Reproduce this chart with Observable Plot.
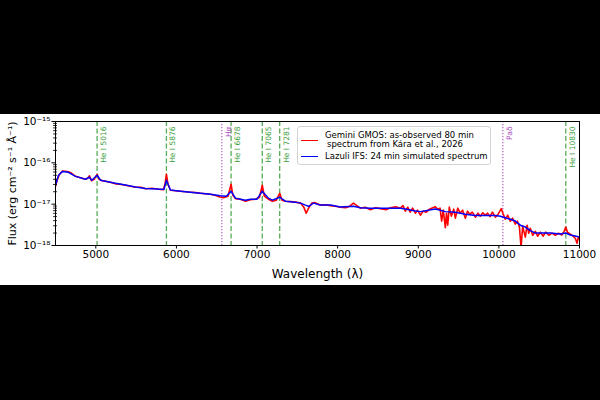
<!DOCTYPE html>
<html>
<head>
<meta charset="utf-8">
<script src="https://cdn.jsdelivr.net/npm/d3@7"></script>
<script src="https://cdn.jsdelivr.net/npm/@observablehq/plot@0.6"></script>
<style>
  html, body { margin: 0; padding: 0; background: #000; width: 600px; height: 400px; overflow: hidden; }
  #fig { position: absolute; left: 0; top: 114px; width: 600px; height: 171px; background: #fff; overflow: hidden; }
  #fig svg { display: block; overflow: visible; }
  #legend { position: absolute; left: 297px; top: 12px; width: 192px; height: 37px;
    border: 1px solid #d4d4d4; border-radius: 3px; background: rgba(255,255,255,0.85);
    font-family: "DejaVu Sans", sans-serif; font-size: 8.5px; color: #000; }
  #legend .t { position: absolute; white-space: nowrap; line-height: 1; }
  #legend .h { position: absolute; height: 0; border-top-width: 1.6px; border-top-style: solid; width: 17px; left: 3px; }
</style>
</head>
<body>
<div id="fig">
  <div id="chart"></div>
  <div id="legend">
    <div class="h" style="top:12.5px;border-top-color:#ff0000"></div>
    <div class="t" style="left:27px;top:3.5px">Gemini GMOS: as-observed 80 min</div>
    <div class="t" style="left:29px;top:13px">spectrum from Kára et al., 2026</div>
    <div class="h" style="top:29px;border-top-color:#0000ff"></div>
    <div class="t" style="left:27px;top:25px">Lazuli IFS: 24 min simulated spectrum</div>
  </div>
</div>
<script>
// ---- Data (flux in units of 1e-17 erg cm^-2 s^-1 Å^-1) ----
const FLUX_UNIT = 1e-17;

// Gemini GMOS observed spectrum (red)
const redWave = [4500,4520,4550,4587,4620,4661,4700,4748,4800,4872,
  4900,4922,4946,4980,5016,5040,5080,5120,5180,5244,
  5300,5368,5430,5492,5560,5616,5700,5780,5840,5860,
  5876,5895,5926,5990,6050,6120,6174,6240,6298,6360,
  6422,6480,6546,6590,6640,6678,6700,6732,6794,6856,
  6918,6980,7030,7065,7090,7141,7191,7240,7281,7310,
  7352,7420,7476,7540,7580,7610,7640,7680,7720,7786,
  7850,7910,7970,8034,8100,8150,8195,8230,8282,8340,
  8406,8470,8530,8600,8654,8720,8778,8810,8840,8870,
  8900,8930,8964,8990,9026,9060,9100,9140,9180,9212,
  9240,9270,9290,9310,9336,9350,9365,9385,9410,9440,
  9460,9490,9520,9550,9584,9610,9640,9670,9708,9740,
  9770,9800,9832,9860,9890,9920,9956,9990,10030,10050,
  10080,10110,10142,10170,10204,10230,10255,10275,10295,10328,
  10350,10370,10390,10420,10452,10480,10514,10550,10580,10620,
  10660,10700,10740,10780,10810,10830,10850,10886,10920,10948,
  10970,10985,11000];
const redFlux = [2.71,3.79,5.28,6.3,6.24,6.1,5.58,4.73,4.4,4.0,
  4.23,4.85,3.7,4.0,5.28,4.0,3.7,3.58,3.39,3.1,
  3.04,2.87,2.71,2.57,2.57,2.37,2.43,2.3,2.24,3.21,
  5.28,3.04,2.17,2.12,2.06,2.0,1.95,1.9,1.84,1.79,
  1.74,1.65,1.47,1.44,1.56,3.04,1.65,1.36,1.32,1.18,
  1.28,1.32,1.47,2.87,1.56,1.32,1.18,1.25,1.84,1.25,
  1.18,1.15,1.12,1.06,0.846,0.605,0.80,1.06,1.09,0.946,
  0.97,0.92,0.894,0.846,0.82,0.894,1.06,0.946,0.80,0.846,
  0.736,0.82,0.78,0.736,0.82,0.87,0.80,0.92,0.677,0.846,
  0.64,0.80,0.605,0.716,0.541,0.677,0.64,0.757,0.82,0.87,
  0.757,0.80,0.39,0.716,0.27,0.605,0.31,0.846,0.512,0.757,
  0.458,0.80,0.605,0.716,0.458,0.677,0.572,0.64,0.484,0.605,
  0.512,0.62,0.541,0.605,0.5,0.64,0.484,0.572,0.78,0.605,
  0.433,0.541,0.387,0.458,0.33,0.387,0.277,0.09,0.29,0.159,
  0.31,0.198,0.262,0.177,0.22,0.168,0.21,0.168,0.21,0.177,
  0.2,0.177,0.198,0.18,0.22,0.28,0.21,0.187,0.168,0.15,
  0.113,0.159,0.142];

// Lazuli IFS simulated spectrum (blue)
const blueWave = [4500,4537,4587,4661,4748,4872,4920,4950,5016,5060,
  5120,5244,5368,5492,5616,5700,5802,5845,5876,5926,
  6050,6174,6298,6422,6546,6620,6678,6732,6794,6856,
  6918,7000,7065,7141,7191,7281,7352,7476,7540,7600,
  7640,7700,7786,7910,8034,8195,8282,8406,8530,8654,
  8778,8840,8964,9026,9212,9336,9460,9584,9708,9832,
  9956,10018,10080,10142,10204,10266,10328,10390,10452,10514,
  10638,10762,10830,10886,10948,11000];
const blueFlux = [2.87,5.0,6.2,5.9,4.7,4.0,4.5,3.8,5.0,3.8,
  3.6,3.2,2.9,2.6,2.4,2.37,2.3,2.3,3.8,2.2,
  2.06,1.95,1.84,1.74,1.6,1.56,2.06,1.4,1.32,1.25,
  1.32,1.32,2.06,1.4,1.25,1.47,1.18,1.12,1.06,0.95,
  0.89,1.06,0.95,0.95,0.85,0.89,0.82,0.80,0.80,0.80,
  0.80,0.76,0.68,0.66,0.76,0.66,0.64,0.57,0.53,0.53,
  0.53,0.51,0.47,0.43,0.39,0.31,0.28,0.23,0.20,0.20,
  0.20,0.19,0.20,0.18,0.17,0.16];

// Identified lines
const lineNames = ["He I 5016","He I 5876","Hα","He I 6678","He I 7065","He I 7281","Paδ","He I 10830"];
const lineWaves = [5016,5876,6563,6678,7065,7281,10049,10830];
const lineKinds = ["He","He","H","He","He","He","H","He"];

// Axis ticks
const xTicks = [5000,6000,7000,8000,9000,10000,11000];
const yTicks = [1e-18,1e-17,1e-16,1e-15];
const yTickLabels = ["10⁻¹⁸","10⁻¹⁷","10⁻¹⁶","10⁻¹⁵"];

// ---- Build tables ----
const red = redWave.map((w, i) => ({wave: w, flux: redFlux[i] * FLUX_UNIT}));
const blue = blueWave.map((w, i) => ({wave: w, flux: blueFlux[i] * FLUX_UNIT}));
const lines = lineNames.map((n, i) => ({name: n, wave: lineWaves[i], kind: lineKinds[i]}));
const heLines = lines.filter(d => d.kind === "He");
const hLines = lines.filter(d => d.kind === "H");
const yLabelRows = yTicks.map((v, i) => ({v, label: yTickLabels[i]}));
const minorY = [];
for (let e = -18; e < -15; e++) for (let m = 2; m <= 9; m++) minorY.push(m * Math.pow(10, e));

const GREEN = "#3a9e3a";
const PURPLE = "#a94cc0";

const chart = Plot.plot({
  width: 600,
  height: 171,
  marginLeft: 55,
  marginRight: 21,
  marginTop: 7,
  marginBottom: 40,
  style: {background: "transparent", fontFamily: "DejaVu Sans, sans-serif", fontSize: "10.5px", color: "#000", overflow: "visible"},
  x: {domain: [4500, 11000]},
  y: {type: "log", domain: [1e-18, 1e-15]},
  marks: [
    Plot.ruleX(heLines, {x: "wave", stroke: GREEN, strokeOpacity: 0.85, strokeWidth: 1.3, strokeDasharray: "5,2.5"}),
    Plot.ruleX(hLines, {x: "wave", stroke: PURPLE, strokeOpacity: 0.85, strokeWidth: 1.3, strokeDasharray: "1.3,1.7"}),
    Plot.line(red, {x: "wave", y: "flux", stroke: "#ff0000", strokeWidth: 1.6, clip: true}),
    Plot.line(blue, {x: "wave", y: "flux", stroke: "#0000ff", strokeWidth: 1.5, clip: true}),
    Plot.text(heLines, {x: "wave", text: "name", frameAnchor: "top", rotate: -90, textAnchor: "end", dx: 3.5, dy: 5, fontSize: 7.5, fill: GREEN}),
    Plot.text(hLines, {x: "wave", text: "name", frameAnchor: "top", rotate: -90, textAnchor: "end", dx: 3.5, dy: 5, fontSize: 7.5, fill: PURPLE}),
    Plot.frame({stroke: "#000", strokeWidth: 1}),
    Plot.axisX({ticks: xTicks, tickSize: 3.5, tickPadding: 2, tickFormat: d => String(d),
      label: "Wavelength (λ)", labelAnchor: "center", labelArrow: "none", labelOffset: 32, fontSize: 10.5}),
    Plot.axisY({ticks: yTicks, tickSize: 3.5, text: null,
      label: "Flux (erg cm⁻² s⁻¹ Å⁻¹)", labelAnchor: "center", labelArrow: "none", labelOffset: 47}),
    Plot.tickY(minorY, {y: d => d, stroke: "#000", strokeWidth: 0.8, insetLeft: -2, insetRight: 522}),
    Plot.text(yLabelRows, {y: "v", text: "label", frameAnchor: "left", textAnchor: "end", dx: -5, fontSize: 10.5, fill: "#000"})
  ]
});
document.getElementById("chart").appendChild(chart);
chart.querySelectorAll("[aria-label='x-axis label'] text").forEach(t => t.setAttribute("font-size", "12px"));
chart.querySelectorAll("[aria-label='y-axis label'] text").forEach(t => t.setAttribute("font-size", "11px"));
</script>
</body>
</html>
